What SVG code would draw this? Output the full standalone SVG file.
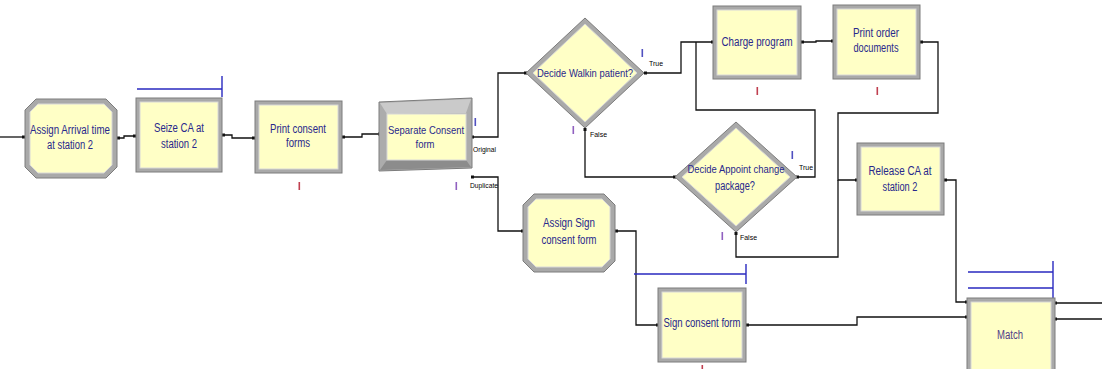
<svg xmlns="http://www.w3.org/2000/svg" width="1102" height="369" viewBox="0 0 1102 369">
<defs>
<style>
.frame{fill:#a9a9a9;stroke:#7c7c7c;stroke-width:1}
.face{fill:#ffffc6;stroke:#d8d8d8;stroke-width:1}
.lbl{font-family:"Liberation Sans",Arial,sans-serif;font-size:12px;fill:#28288c;text-anchor:middle}
.small{font-family:"Liberation Sans",Arial,sans-serif;font-size:7px;fill:#000}
.con{fill:none;stroke:#111;stroke-width:1.3}
.res{fill:none;stroke:#2a2ac0;stroke-width:1.4}
.dot{fill:#111}
.mr{fill:#c04050}
.mb{fill:#5050c0}
.mp{fill:#9060c0}
</style>
</defs>
<rect width="1102" height="369" fill="#ffffff"/>

<g id="connectors">
<path class="con" d="M0,137 H24"/>
<path class="con" d="M118,138 H124 V136 H134"/>
<path class="con" d="M224,135 H232 V138 H254"/>
<path class="con" d="M343,137 H362 V134 H380"/>
<path class="con" d="M472,137 H498 V73 H526"/>
<path class="con" d="M472,177 H498 V231 H523"/>
<path class="con" d="M645,73 H681 V42 H713"/>
<path class="con" d="M802,42 H816 V41 H832"/>
<path class="con" d="M585,129 V177 H675"/>
<path class="con" d="M798,177 H815 V110 H696 V42"/>
<path class="con" d="M921,42 H938 V113 H838 V180 H857"/>
<path class="con" d="M736,233 V257 H838 V180"/>
<path class="con" d="M945,180 H956 V302 H967"/>
<path class="con" d="M616,231 H636 V325 H658"/>
<path class="con" d="M747,325 H857 V317 H967"/>
<path class="con" d="M1056,303 H1102"/>
<path class="con" d="M1056,319 H1102"/>
<rect class="dot" x="22" y="135.5" width="3" height="3"/>
<rect class="dot" x="117" y="136.5" width="3" height="3"/>
<rect class="dot" x="133" y="134.5" width="3" height="3"/>
<rect class="dot" x="222" y="133.5" width="3" height="3"/>
<rect class="dot" x="252" y="136.5" width="3" height="3"/>
<rect class="dot" x="342" y="135.5" width="3" height="3"/>
<rect class="dot" x="378" y="132.5" width="3" height="3"/>
<rect class="dot" x="471" y="135.5" width="3" height="3"/>
<rect class="dot" x="471" y="175.5" width="3" height="3"/>
<rect class="dot" x="524" y="71.5" width="3" height="3"/>
<rect class="dot" x="644" y="71.5" width="3" height="3"/>
<rect class="dot" x="583.5" y="128" width="3" height="3"/>
<rect class="dot" x="711" y="40.5" width="3" height="3"/>
<rect class="dot" x="801" y="40.5" width="3" height="3"/>
<rect class="dot" x="831" y="39.5" width="3" height="3"/>
<rect class="dot" x="920" y="40.5" width="3" height="3"/>
<rect class="dot" x="673" y="175.5" width="3" height="3"/>
<rect class="dot" x="796" y="175.5" width="3" height="3"/>
<rect class="dot" x="734.5" y="232" width="3" height="3"/>
<rect class="dot" x="855" y="178.5" width="3" height="3"/>
<rect class="dot" x="944" y="178.5" width="3" height="3"/>
<rect class="dot" x="521" y="229.5" width="3" height="3"/>
<rect class="dot" x="615" y="229.5" width="3" height="3"/>
<rect class="dot" x="656" y="323.5" width="3" height="3"/>
<rect class="dot" x="746" y="323.5" width="3" height="3"/>
<rect class="dot" x="965" y="300.5" width="3" height="3"/>
<rect class="dot" x="965" y="315.5" width="3" height="3"/>
<rect class="dot" x="1054" y="301.5" width="3" height="3"/>
<rect class="dot" x="1054" y="317.5" width="3" height="3"/>
</g>

<g id="resources">
<path class="res" d="M137,89 H222 M222,76 V97"/>
<path class="res" d="M634,274 H746 M746,264 V284"/>
<path class="res" d="M968,272 H1053 M968,288 H1053 M1053,261 V298"/>
</g>

<g id="assign-arrival">
<polygon class="frame" points="36,99 106,99 117,110 117,167 106,178 36,178 25,167 25,110"/>
<polygon class="face" points="38,104 104,104 112,112 112,165 104,173 38,173 30,165 30,112"/>
<text class="lbl" x="70" y="134" textLength="80" lengthAdjust="spacingAndGlyphs">Assign Arrival time</text>
<text class="lbl" x="70" y="149" textLength="46" lengthAdjust="spacingAndGlyphs">at station 2</text>
</g>

<g id="seize-ca">
<rect class="frame" x="136" y="98" width="86" height="74"/>
<rect class="face" x="140" y="102" width="78" height="66"/>
<text class="lbl" x="179" y="132" textLength="50" lengthAdjust="spacingAndGlyphs">Seize CA at</text>
<text class="lbl" x="179" y="148" textLength="36" lengthAdjust="spacingAndGlyphs">station 2</text>
</g>

<g id="print-consent">
<rect class="frame" x="255" y="101" width="87" height="72"/>
<rect class="face" x="259" y="105" width="79" height="64"/>
<text class="lbl" x="298" y="133" textLength="56" lengthAdjust="spacingAndGlyphs">Print consent</text>
<text class="lbl" x="298" y="147" textLength="24" lengthAdjust="spacingAndGlyphs">forms</text>
<rect class="mr" x="298.5" y="182" width="1.6" height="8"/>
</g>

<g id="separate-consent">
<polygon points="379,102 472,98 472,168 379,171" fill="#acacac" stroke="#7c7c7c" stroke-width="1"/>
<polygon points="380,103 471,99 466,113 387,114" fill="#cacaca"/>
<polygon points="387,160 466,160 471,167 380,170" fill="#8c8c8c"/>
<rect class="face" x="387" y="114" width="79" height="46"/>
<text class="lbl" x="426" y="134" textLength="76" lengthAdjust="spacingAndGlyphs" style="font-size:11px">Separate Consent</text>
<text class="lbl" x="425" y="148" textLength="19" lengthAdjust="spacingAndGlyphs" style="font-size:11px">form</text>
<rect class="mb" x="474.5" y="118" width="1.6" height="8"/>
<text class="small" x="473" y="152" textLength="23" lengthAdjust="spacingAndGlyphs">Original</text>
<rect class="mp" x="455.5" y="182" width="1.6" height="8"/>
<text class="small" x="470" y="188" textLength="28" lengthAdjust="spacingAndGlyphs">Duplicate</text>
</g>

<g id="decide-walkin">
<polygon class="frame" points="585,18 644,73 585,128 526,73"/>
<polygon class="face" points="585,24 637,73 585,122 533,73"/>
<text class="lbl" x="585" y="77" textLength="96" lengthAdjust="spacingAndGlyphs" style="font-size:11px">Decide Walkin patient?</text>
<rect class="mb" x="641.5" y="49" width="1.6" height="8"/>
<text class="small" x="649" y="66" textLength="14" lengthAdjust="spacingAndGlyphs">True</text>
<rect class="mp" x="572.5" y="126" width="1.6" height="8"/>
<text class="small" x="590" y="137" textLength="17" lengthAdjust="spacingAndGlyphs">False</text>
</g>

<g id="charge-program">
<rect class="frame" x="713" y="6" width="88" height="73"/>
<rect class="face" x="717" y="10" width="80" height="65"/>
<text class="lbl" x="757" y="46" textLength="71" lengthAdjust="spacingAndGlyphs">Charge program</text>
<rect class="mr" x="756.5" y="87" width="1.6" height="8"/>
</g>

<g id="print-order">
<rect class="frame" x="833" y="5" width="87" height="74"/>
<rect class="face" x="837" y="9" width="79" height="66"/>
<text class="lbl" x="876" y="37" textLength="46" lengthAdjust="spacingAndGlyphs">Print order</text>
<text class="lbl" x="876" y="52" textLength="45" lengthAdjust="spacingAndGlyphs">documents</text>
<rect class="mr" x="876.5" y="87" width="1.6" height="8"/>
</g>

<g id="decide-appoint">
<polygon class="frame" points="736,122 797,177 736,232 675,177"/>
<polygon class="face" points="736,128 790,177 736,226 682,177"/>
<text class="lbl" x="736" y="173" textLength="97" lengthAdjust="spacingAndGlyphs" style="font-size:10.5px">Decide Appoint change</text>
<text class="lbl" x="735" y="190" textLength="40" lengthAdjust="spacingAndGlyphs">package?</text>
<rect class="mb" x="791.5" y="151" width="1.6" height="8"/>
<text class="small" x="799" y="170" textLength="14" lengthAdjust="spacingAndGlyphs">True</text>
<rect class="mp" x="721.5" y="232" width="1.6" height="8"/>
<text class="small" x="740" y="240" textLength="17" lengthAdjust="spacingAndGlyphs">False</text>
</g>

<g id="release-ca">
<rect class="frame" x="857" y="143" width="87" height="72"/>
<rect class="face" x="861" y="147" width="79" height="64"/>
<text class="lbl" x="900" y="175" textLength="63" lengthAdjust="spacingAndGlyphs">Release CA at</text>
<text class="lbl" x="900" y="191" textLength="35" lengthAdjust="spacingAndGlyphs">station 2</text>
</g>

<g id="assign-sign">
<polygon class="frame" points="534,194 604,194 615,205 615,261 604,272 534,272 523,261 523,205"/>
<polygon class="face" points="536,199 602,199 610,207 610,259 602,267 536,267 528,259 528,207"/>
<text class="lbl" x="569" y="227" textLength="52" lengthAdjust="spacingAndGlyphs">Assign Sign</text>
<text class="lbl" x="569" y="244" textLength="55" lengthAdjust="spacingAndGlyphs">consent form</text>
</g>

<g id="sign-consent">
<rect class="frame" x="658" y="288" width="88" height="74"/>
<rect class="face" x="662" y="292" width="80" height="66"/>
<text class="lbl" x="702" y="327" textLength="77" lengthAdjust="spacingAndGlyphs">Sign consent form</text>
<rect class="mr" x="701.5" y="365" width="1.6" height="4"/>
</g>

<g id="match">
<rect class="frame" x="967" y="298" width="88" height="76"/>
<rect class="face" x="971" y="302" width="80" height="72"/>
<text class="lbl" x="1010" y="339" textLength="26" lengthAdjust="spacingAndGlyphs" style="fill:#504088">Match</text>
</g>
</svg>
